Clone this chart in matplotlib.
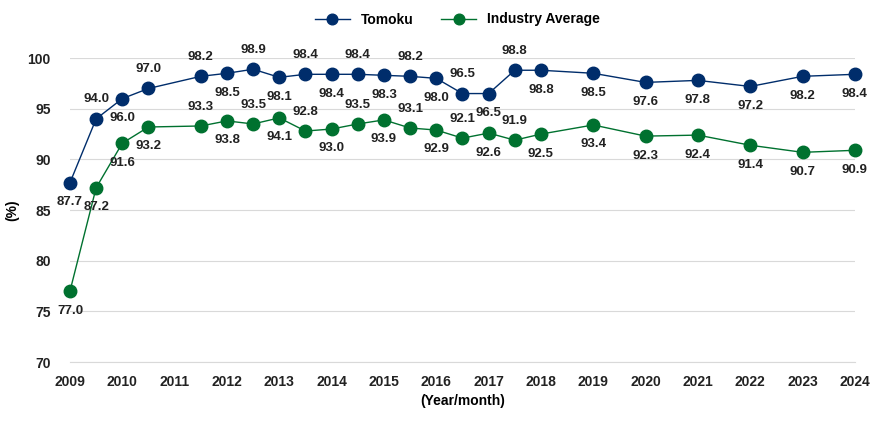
import matplotlib.pyplot as plt

plt.rcParams['font.family'] = ['Liberation Sans', 'DejaVu Sans']

years = [2009, 2009.5, 2010, 2010.5, 2011.5, 2012, 2012.5, 2013, 2013.5, 2014, 2014.5,
         2015, 2015.5, 2016, 2016.5, 2017, 2017.5, 2018, 2019, 2020, 2021, 2022, 2023, 2024]
tomoku = [87.7, 94.0, 96.0, 97.0, 98.2, 98.5, 98.9, 98.1, 98.4, 98.4, 98.4, 98.3,
          98.2, 98.0, 96.5, 96.5, 98.8, 98.8, 98.5, 97.6, 97.8, 97.2, 98.2, 98.4]
industry = [77.0, 87.2, 91.6, 93.2, 93.3, 93.8, 93.5, 94.1, 92.8, 93.0, 93.5, 93.9,
            93.1, 92.9, 92.1, 92.6, 91.9, 92.5, 93.4, 92.3, 92.4, 91.4, 90.7, 90.9]
# label placement: 1 = above, -1 = below
tomoku_pos = [-1, 1, -1, 1, 1, -1, 1, -1, 1, -1, 1, -1, 1, -1, 1, -1, 1, -1, -1, -1, -1, -1, -1, -1]
industry_pos = [-1, -1, -1, -1, 1, -1, 1, -1, 1, -1, 1, -1, 1, -1, 1, -1, 1, -1, -1, -1, -1, -1, -1, -1]

navy = '#002D6B'
green = '#00712F'

fig = plt.figure(figsize=(8.8, 4.24), dpi=100)
ax = fig.add_axes([0.0795, 0.146, 0.892, 0.717])

ax.plot(years, tomoku, color=navy, lw=1, marker='o', ms=9, label='Tomoku', clip_on=False)
ax.plot(years, industry, color=green, lw=1, marker='o', ms=9, label='Industry Average', clip_on=False)

for x, v, p in zip(years, tomoku, tomoku_pos):
    ax.annotate(f'{v:.1f}', (x, v), xytext=(0, 14 * p), textcoords='offset points',
                ha='center', va='center', fontsize=9.5, fontweight='bold', color='#222222')
for x, v, p in zip(years, industry, industry_pos):
    ax.annotate(f'{v:.1f}', (x, v), xytext=(0, 14 * p), textcoords='offset points',
                ha='center', va='center', fontsize=9.5, fontweight='bold', color='#222222')

ax.set_xlim(2009, 2024)
ax.set_ylim(70, 100)
ax.set_xticks(range(2009, 2025))
ax.set_yticks(range(70, 101, 5))
ax.tick_params(length=0, labelsize=10, colors='#222222')
ax.tick_params(axis='y', pad=14)
ax.tick_params(axis='x', pad=9)
for lab in ax.get_xticklabels() + ax.get_yticklabels():
    lab.set_fontweight('bold')
ax.grid(axis='y', color='#d9d9d9', lw=0.8)
ax.set_axisbelow(True)
for s in ['top', 'right', 'left']:
    ax.spines[s].set_visible(False)
ax.spines['bottom'].set_color('#d9d9d9')
ax.set_ylabel('(%)', fontsize=10, fontweight='bold', labelpad=6)
ax.set_xlabel('(Year/month)', fontsize=10, fontweight='bold', labelpad=4)

fig.legend(loc='upper center', bbox_to_anchor=(0.52, 1.0), ncol=2, frameon=False,
           prop={'size': 10, 'weight': 'bold'}, handlelength=2.5, markerscale=0.85)

fig.savefig('out.png')
